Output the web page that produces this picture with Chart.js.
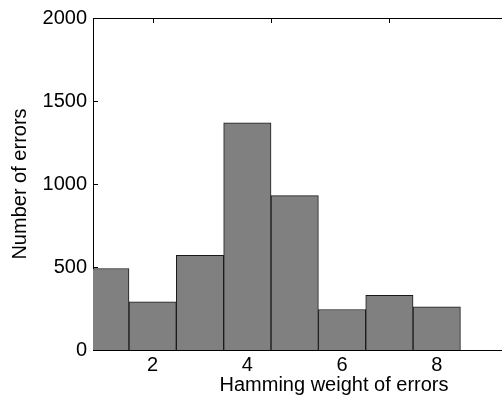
<!DOCTYPE html>
<html>
<head>
<meta charset="utf-8">
<script src="https://cdn.jsdelivr.net/npm/chart.js@4"></script>
<style>
  html, body { margin: 0; padding: 0; background: #fff; overflow: hidden; }
  #wrap { width: 502px; height: 405px; overflow: hidden; }
</style>
</head>
<body>
<div id="wrap"><canvas id="myChart" width="600" height="405"></canvas></div>
<script>
// histogram data
var weights = [1, 2, 3, 4, 5, 6, 7, 8];
var counts = [491, 290, 571, 1369, 930, 244, 330, 260];

var xTicks = [2, 4, 6, 8, 10];
var topTicks = [2, 4.5, 7, 9.5];
var yTicks = [0, 500, 1000, 1500, 2000];

var xMin = 0.74, xMax = 10.92;

var font = { family: "'Liberation Sans', Arial, sans-serif", size: 20 };

// MATLAB style inward ticks, drawn under the bars
var innerTicks = {
  id: 'innerTicks',
  beforeDatasetsDraw: function (chart) {
    var c = chart.ctx, a = chart.chartArea;
    c.save();
    c.strokeStyle = '#000';
    c.lineWidth = 1;
    c.beginPath();
    chart.scales.y.ticks.forEach(function (t) {
      var py = Math.round(chart.scales.y.getPixelForValue(t.value)) + 0.5;
      c.moveTo(a.left, py); c.lineTo(a.left + 5, py);
    });
    chart.scales.x.ticks.forEach(function (t) {
      var px = Math.round(chart.scales.x.getPixelForValue(t.value)) + 0.5;
      c.moveTo(px, a.bottom); c.lineTo(px, a.bottom - 5);
    });
    chart.scales.x2.ticks.forEach(function (t) {
      var px = Math.round(chart.scales.x2.getPixelForValue(t.value)) + 0.5;
      c.moveTo(px, a.top); c.lineTo(px, a.top + 5);
    });
    c.stroke();
    c.restore();
  }
};

var ctx = document.getElementById('myChart').getContext('2d');

var myChart = new Chart(ctx, {
  type: 'bar',
  data: {
    datasets: [{
      data: weights.map(function (w, i) { return { x: w, y: counts[i] }; }),
      backgroundColor: '#808080',
      borderColor: '#1a1a1a',
      borderWidth: 1,
      barPercentage: 1,
      categoryPercentage: 1
    }]
  },
  options: {
    responsive: false,
    animation: false,
    layout: { padding: { left: 0, right: 25, top: 0, bottom: 0 } },
    plugins: { legend: { display: false }, tooltip: { enabled: false } },
    scales: {
      x: {
        type: 'linear',
        position: 'bottom',
        offset: false,
        min: xMin,
        max: xMax,
        afterBuildTicks: function (s) { s.ticks = xTicks.map(function (v) { return { value: v }; }); },
        afterFit: function (s) { s.height = 55; },
        grid: { display: false, drawTicks: false, offset: false },
        border: { display: true, color: '#000', width: 1 },
        ticks: { color: '#000', font: font, padding: 3, maxRotation: 0, autoSkip: false },
        title: { display: true, text: 'Hamming weight of errors', color: '#000', font: font, padding: { top: 0, bottom: 8 } }
      },
      x2: {
        type: 'linear',
        position: 'top',
        offset: false,
        min: xMin,
        max: xMax,
        afterBuildTicks: function (s) { s.ticks = topTicks.map(function (v) { return { value: v }; }); },
        afterFit: function (s) { s.height = 18; },
        grid: { display: false, drawTicks: false, offset: false },
        border: { display: true, color: '#000', width: 1 },
        ticks: { display: false }
      },
      y: {
        min: 0,
        max: 2000,
        afterBuildTicks: function (s) { s.ticks = yTicks.map(function (v) { return { value: v }; }); },
        afterFit: function (s) { s.width = 93; },
        grid: { display: false, drawTicks: false },
        border: { display: true, color: '#000', width: 1 },
        ticks: { color: '#000', font: font, padding: 6, callback: function (v) { return String(v); } },
        title: { display: true, text: 'Number of errors', color: '#000', font: font, padding: { top: 8, bottom: 0 } }
      }
    }
  },
  plugins: [innerTicks]
});
</script>
</body>
</html>
